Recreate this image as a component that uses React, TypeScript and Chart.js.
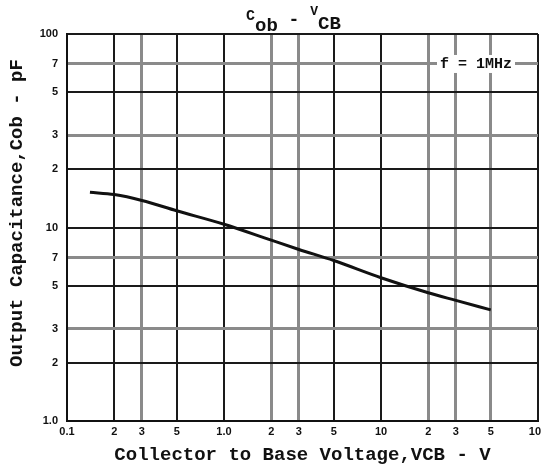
import React, { useEffect, useRef } from "react";
import { Chart, registerables } from "chart.js";

Chart.register(...registerables);

const vcb = [0.14, 0.2, 0.3, 0.5, 1, 2, 3, 5, 10, 20, 30, 50];
const cob = [15.2, 14.8, 13.8, 12.2, 10.4, 8.6, 7.7, 6.75, 5.5, 4.6, 4.2, 3.75];

const xTicks = [0.1, 0.2, 0.3, 0.5, 1, 2, 3, 5, 10, 20, 30, 50, 100];
const xTickLabels = ["0.1", "2", "3", "5", "1.0", "2", "3", "5", "10", "2", "3", "5", "100"];
const yTicks = [1, 2, 3, 5, 7, 10, 20, 30, 50, 70, 100];
const yTickLabels = ["1.0", "2", "3", "5", "7", "10", "2", "3", "5", "7", "100"];

const xGray = [0.3, 2, 3, 20, 30, 50];
const yGray = [3, 7, 30, 70];

const titleMain = ["C", "ob", " - ", "V", "CB"];
const xTitle = "Collector to Base Voltage,VCB - V";
const yTitle = "Output Capacitance,Cob - pF";
const freqNote = "f = 1MHz";

const MONO = "'Liberation Mono', 'DejaVu Sans Mono', monospace";

const textPlugin = {
  id: "texts",
  afterDraw(chart: any) {
    const ctx = chart.ctx;
    const area = chart.chartArea;
    ctx.save();
    ctx.fillStyle = "#111";
    ctx.textBaseline = "alphabetic";
    ctx.textAlign = "left";
    let x = 246;
    const parts = [
      { t: titleMain[0], f: 15, y: 20 },
      { t: titleMain[1], f: 19, y: 31 },
      { t: titleMain[2], f: 18, y: 25 },
      { t: titleMain[3], f: 13, y: 15 },
      { t: titleMain[4], f: 19, y: 29 },
    ];
    for (const p of parts) {
      ctx.font = `bold ${p.f}px ${MONO}`;
      ctx.fillText(p.t, x, p.y);
      x += ctx.measureText(p.t).width;
    }
    ctx.font = `bold 19px ${MONO}`;
    ctx.textAlign = "center";
    ctx.textBaseline = "middle";
    ctx.fillText(xTitle, (area.left + area.right) / 2, 455);
    ctx.save();
    ctx.translate(17, 213);
    ctx.rotate(-Math.PI / 2);
    ctx.font = `bold 19px ${MONO}`;
    ctx.fillText(yTitle, 0, 0);
    ctx.restore();
    const ys = chart.scales.y;
    const yy = ys.getPixelForValue(70);
    ctx.font = `bold 15px ${MONO}`;
    const w = ctx.measureText(freqNote).width;
    const cx = 476;
    ctx.fillStyle = "#fff";
    ctx.fillRect(cx - w / 2 - 3, yy - 9, w + 6, 18);
    ctx.fillStyle = "#111";
    ctx.fillText(freqNote, cx, yy);
    ctx.restore();
  },
};

export default function App() {
  const ref = useRef<HTMLCanvasElement | null>(null);
  useEffect(() => {
    if (!ref.current) return;
    const chart = new Chart(ref.current, {
      type: "line",
      data: {
        datasets: [
          {
            data: vcb.map((v, i) => ({ x: v, y: cob[i] })),
            borderColor: "#111",
            borderWidth: 3,
            pointRadius: 0,
            cubicInterpolationMode: "monotone",
            fill: false,
          },
        ],
      },
      options: {
        responsive: false,
        animation: false,
        layout: { padding: { top: 34, right: 3, left: 0, bottom: 0 }, autoPadding: false } as any,
        plugins: { legend: { display: false }, tooltip: { enabled: false }, title: { display: false } },
        scales: {
          x: {
            type: "logarithmic",
            min: 0.1,
            max: 100,
            afterBuildTicks: (s: any) => {
              s.ticks = xTicks.map((v) => ({ value: v }));
            },
            afterFit: (s: any) => {
              s.height = 52;
              s.paddingLeft = 0;
              s.paddingRight = 0;
            },
            ticks: {
              autoSkip: false,
              maxRotation: 0,
              padding: 4,
              color: "#111",
              font: { family: "'Liberation Sans', Arial, sans-serif", weight: "bold", size: 11 },
              callback: (_v: any, i: number) => xTickLabels[i],
            },
            grid: {
              drawTicks: false,
              color: (c: any) => (c.tick && xGray.includes(c.tick.value) ? "#8a8a8a" : "#1a1a1a"),
              lineWidth: (c: any) => (c.tick && xGray.includes(c.tick.value) ? 3 : 2),
            },
            border: { display: true, color: "#111", width: 2 },
          },
          y: {
            type: "logarithmic",
            min: 1,
            max: 100,
            afterBuildTicks: (s: any) => {
              s.ticks = yTicks.map((v) => ({ value: v }));
            },
            afterFit: (s: any) => {
              s.width = 67;
              s.paddingTop = 0;
              s.paddingBottom = 0;
            },
            ticks: {
              autoSkip: false,
              padding: 9,
              color: "#111",
              font: { family: "'Liberation Sans', Arial, sans-serif", weight: "bold", size: 11 },
              callback: (_v: any, i: number) => yTickLabels[i],
            },
            grid: {
              drawTicks: false,
              color: (c: any) => (c.tick && yGray.includes(c.tick.value) ? "#8a8a8a" : "#1a1a1a"),
              lineWidth: (c: any) => (c.tick && yGray.includes(c.tick.value) ? 3 : 2),
            },
            border: { display: true, color: "#111", width: 2 },
          },
        },
      } as any,
      plugins: [textPlugin],
    });
    return () => chart.destroy();
  }, []);
  return (
    <div style={{ position: "absolute", left: 0, top: 0, width: 541, height: 473, background: "#fff" }}>
      <canvas ref={ref} width={541} height={473} style={{ width: 541, height: 473, display: "block" }} />
    </div>
  );
}
